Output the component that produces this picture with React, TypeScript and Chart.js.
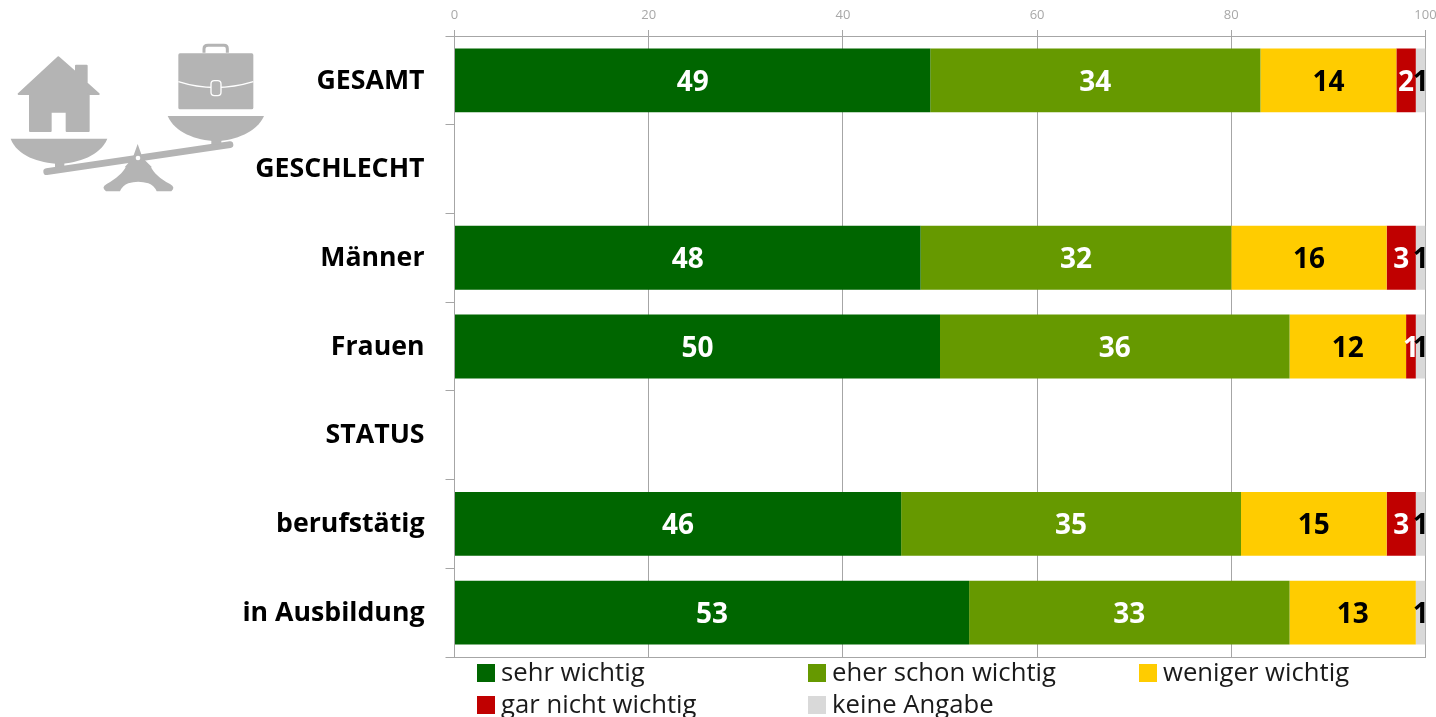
import React, { useEffect, useRef } from "react";
import { Chart, registerables } from "chart.js";

Chart.register(...registerables);

const categories = ["GESAMT", "GESCHLECHT", "Männer", "Frauen", "STATUS", "berufstätig", "in Ausbildung"];
const sehrWichtig = [49, null, 48, 50, null, 46, 53];
const eherSchonWichtig = [34, null, 32, 36, null, 35, 33];
const wenigerWichtig = [14, null, 16, 12, null, 15, 13];
const garNichtWichtig = [2, null, 3, 1, null, 3, null];
const keineAngabe = [1, null, 1, 1, null, 1, 1];

const seriesNames = ["sehr wichtig", "eher schon wichtig", "weniger wichtig", "gar nicht wichtig", "keine Angabe"];
const seriesColors = ["#006600", "#669900", "#FFCC00", "#C00000", "#D9D9D9"];
const labelColors = ["#ffffff", "#ffffff", "#000000", "#ffffff", "#000000"];
const seriesValues = [sehrWichtig, eherSchonWichtig, wenigerWichtig, garNichtWichtig, keineAngabe];

const legendPositions = [
  [477, 664],
  [808, 664],
  [1139, 664],
  [477, 696],
  [808, 696],
];

const FONT = "'Open Sans', sans-serif";
const GRID = "#a6a6a6";

const segmentLabels = {
  id: "segmentLabels",
  afterDatasetsDraw(chart: any) {
    const { ctx } = chart;
    chart.data.datasets.forEach((ds: any, i: number) => {
      chart.getDatasetMeta(i).data.forEach((bar: any, j: number) => {
        const v = ds.data[j];
        if (v == null) return;
        const p = bar.getProps(["x", "y", "base"], true);
        ctx.save();
        ctx.font = `700 28px ${FONT}`;
        ctx.fillStyle = labelColors[i];
        ctx.textAlign = "center";
        ctx.textBaseline = "middle";
        ctx.fillText(String(v), (p.x + p.base) / 2, p.y + 2.5);
        ctx.restore();
      });
    });
  },
};

function ScaleIcon() {
  const g = "#b4b4b4";
  return (
    <svg viewBox="0 0 840 510" width={280} height={170} style={{ position: "absolute", left: 0, top: 30 }}>
      <path fill={g} stroke={g} strokeWidth={6} strokeLinejoin="round"
        d="M175 82 L228 128 V107 H260 V160 L296 192 H266 V303 H200 V245 H152 V303 H90 V192 H56 Z" />
      <path fill={g} d="M32 326 H322 C300 378 235 398 178 402 C115 398 52 378 32 326 Z" />
      <rect x={165} y={396} width={28} height={16} fill={g} />
      <line x1={140} y1={425} x2={690} y2={344} stroke={g} strokeWidth={20} strokeLinecap="round" />
      <rect x={535} y={70} width={225} height={168} rx={5} fill={g} />
      <path d="M612 68 V56 Q612 46 624 46 H672 Q682 46 682 56 V68" fill="none" stroke={g} strokeWidth={9} />
      <path d="M535 155 Q645 190 760 155" fill="none" stroke="#fff" strokeWidth={4} />
      <rect x={633} y={152} width={30} height={45} rx={10} fill={g} stroke="#fff" strokeWidth={4} />
      <path fill={g} d="M503 258 H792 C770 308 705 330 650 334 C585 330 525 308 503 258 Z" />
      <rect x={634} y={330} width={30} height={14} fill={g} />
      <path fill={g} d="M413 342 L428 384 L456 412 L374 412 L398 384 Z" />
      <circle cx={414} cy={384} r={7} fill="#fff" />
      <path fill={g} d="M378 410 H452 C462 428 478 445 510 462 Q528 472 514 484 H470 Q462 466 445 460 Q414 450 385 460 Q368 466 360 484 H318 Q302 472 320 462 C350 445 368 428 378 410 Z" />
    </svg>
  );
}

export default function App() {
  const ref = useRef<HTMLCanvasElement>(null);

  useEffect(() => {
    const chart = new Chart(ref.current!, {
      type: "bar",
      data: {
        labels: categories,
        datasets: seriesNames.map((name, i) => ({
          label: name,
          data: seriesValues[i],
          backgroundColor: seriesColors[i],
          barPercentage: 0.72,
          categoryPercentage: 1,
          xAxisID: "x",
        })),
      },
      options: {
        indexAxis: "y",
        responsive: false,
        animation: false,
        layout: { padding: { top: 0, left: 0, right: 10.5, bottom: 60 } },
        plugins: { legend: { display: false }, tooltip: { enabled: false } },
        scales: {
          x: {
            type: "linear",
            position: "top",
            stacked: true,
            min: 0,
            max: 100,
            ticks: { stepSize: 20, color: "#a8a8a8", padding: 7, font: { family: FONT, size: 13 }, maxRotation: 0 },
            grid: { color: GRID, lineWidth: 1, tickLength: 6 },
            border: { color: GRID },
            afterFit(s: any) { s.height = 36; s.paddingLeft = 0; s.paddingRight = 0; },
          },
          xBottom: {
            type: "linear",
            position: "bottom",
            min: 0,
            max: 100,
            ticks: { display: false },
            grid: { display: false },
            border: { color: GRID },
            afterFit(s: any) { s.height = 0; s.paddingLeft = 0; s.paddingRight = 0; },
          },
          y: {
            stacked: true,
            grid: { drawOnChartArea: false, color: GRID, tickLength: 9, offset: true },
            border: { color: GRID },
            ticks: { color: "#000000", padding: 21, labelOffset: 0.6, font: { family: FONT, size: 26.7, weight: "700" }, autoSkip: false },
            afterFit(s: any) { s.width = 454.5; s.paddingTop = 0; s.paddingBottom = 0; },
          },
        },
      } as any,
      plugins: [segmentLabels],
    });
    return () => chart.destroy();
  }, []);

  return (
    <div style={{ position: "fixed", left: 0, top: 0, width: 1436, height: 717, overflow: "hidden", background: "#fff" }}>
      <canvas ref={ref} width={1436} height={717} style={{ position: "absolute", left: 0, top: 0 }} />
      <ScaleIcon />
      {seriesNames.map((name, i) => (
        <div key={name} style={{ position: "absolute", left: legendPositions[i][0], top: legendPositions[i][1], height: 18, display: "flex", alignItems: "center", whiteSpace: "nowrap" }}>
          <span style={{ width: 18, height: 18, background: seriesColors[i], display: "inline-block" }} />
          <span style={{ marginLeft: 6, marginTop: -3, font: `400 25.7px ${FONT}`, color: "#1a1a1a" }}>{name}</span>
        </div>
      ))}
    </div>
  );
}
